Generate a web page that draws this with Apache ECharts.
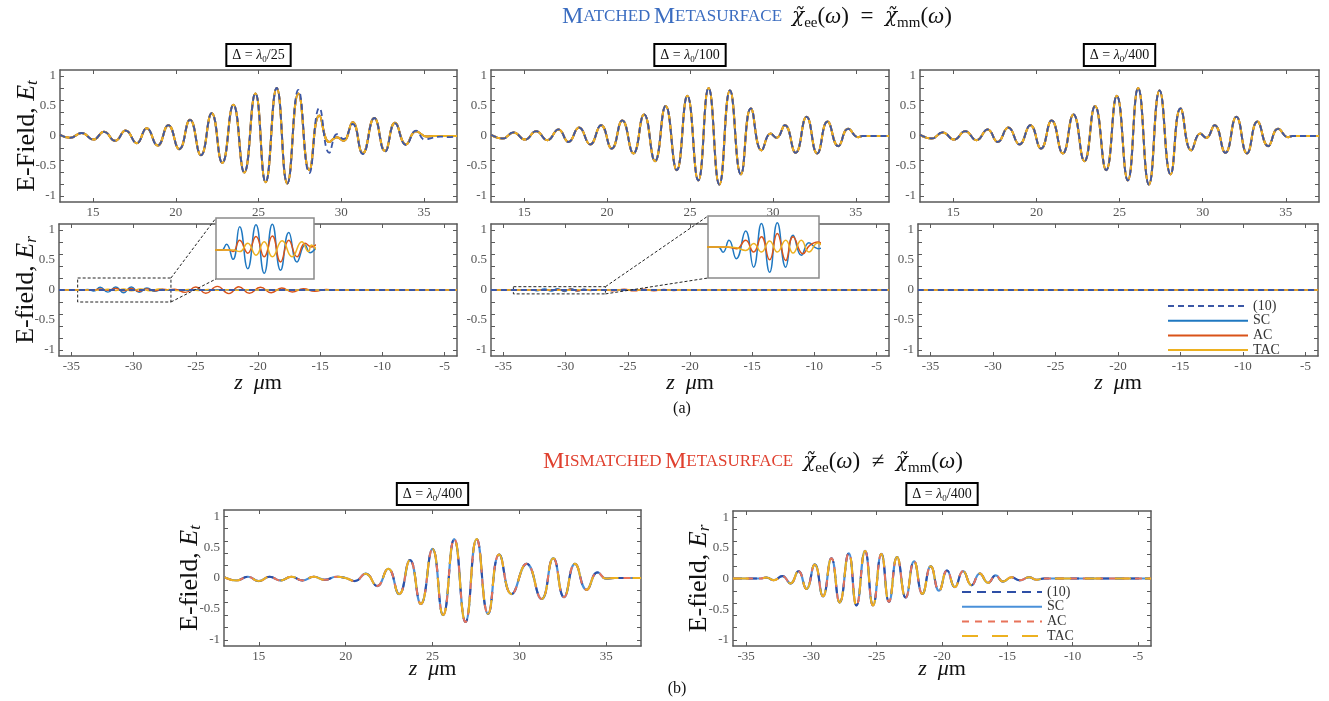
<!DOCTYPE html>
<html><head><meta charset="utf-8">
<script src="https://cdn.jsdelivr.net/npm/echarts@6/dist/echarts.min.js"></script>
<style>html,body{margin:0;padding:0;background:#fff}#c{width:1329px;height:701px}</style>
</head><body><div id="c"></div>
<script>
// ---------------- DATA ----------------
const zTicksT = [15, 20, 25, 30, 35];
const zTicksR = [-35, -30, -25, -20, -15, -10, -5];
const eLabels = [-1, -0.5, 0, 0.5, 1];
const eTicks = [-1, -0.8, -0.6, -0.4, -0.2, 0, 0.2, 0.4, 0.6, 0.8, 1];
const seriesNames = ['(10)', 'SC', 'AC', 'TAC'];
const panelTitlesA = ['25', '100', '400'];

// Matched, Δ = λ0/25, transmitted field (SC/AC/TAC)
const etLam25 = [[13.0,0.02],[13.6,-0.03],[14.31,0.05],[15.02,-0.06],[15.66,0.07],[16.33,-0.08],[16.97,0.09],[17.64,-0.12],[18.24,0.13],[18.9,-0.16],[19.55,0.18],[20.21,-0.22],[20.86,0.27],[21.52,-0.32],[22.17,0.38],[22.81,-0.45],[23.48,0.52],[24.14,-0.61],[24.81,0.71],[25.43,-0.77],[26.1,0.8],[26.74,-0.79],[27.41,0.71],[28.07,-0.57],[28.68,0.34],[29.28,-0.1],[29.73,-0.02],[30.13,-0.08],[30.69,0.23],[31.3,-0.29],[32.0,0.3],[32.65,-0.25],[33.25,0.22],[33.92,-0.14],[34.52,0.08],[35.17,-0.01],[35.6,0],[37,0]];
// Matched, Δ = λ0/25, transmitted field, eq. (10)
const etLam25Eq10 = [[13.0,0.02],[13.6,-0.03],[14.31,0.05],[15.02,-0.06],[15.66,0.07],[16.33,-0.08],[16.97,0.09],[17.64,-0.12],[18.24,0.13],[18.9,-0.16],[19.55,0.18],[20.21,-0.22],[20.86,0.27],[21.52,-0.32],[22.17,0.38],[22.81,-0.45],[23.48,0.52],[24.14,-0.61],[24.81,0.71],[25.43,-0.77],[26.1,0.8],[26.74,-0.79],[27.41,0.77],[28.07,-0.62],[28.68,0.47],[29.28,-0.28],[29.75,0.03],[30.13,-0.05],[30.69,0.2],[31.3,-0.3],[32.0,0.3],[32.65,-0.26],[33.25,0.21],[33.92,-0.15],[34.52,0.09],[35.05,-0.06],[35.5,-0.03],[36.0,-0.01],[36.5,-0.02],[37,0]];
// Matched, Δ = λ0/100 and λ0/400, transmitted field
const etMatched = [[13.0,0.02],[13.71,-0.04],[14.36,0.06],[15.06,-0.06],[15.72,0.08],[16.4,-0.07],[17.07,0.11],[17.67,-0.1],[18.31,0.14],[18.98,-0.14],[19.64,0.18],[20.28,-0.21],[20.92,0.26],[21.59,-0.29],[22.23,0.36],[22.89,-0.42],[23.53,0.5],[24.2,-0.57],[24.84,0.67],[25.5,-0.74],[26.12,0.8],[26.77,-0.81],[27.41,0.76],[28.07,-0.64],[28.67,0.46],[29.32,-0.24],[29.86,0.04],[30.22,-0.03],[30.72,0.18],[31.37,-0.28],[32.03,0.32],[32.67,-0.29],[33.29,0.24],[33.94,-0.17],[34.54,0.12],[35.14,-0.02],[35.4,0],[37,0]];
// Matched, Δ = λ0/25, reflected field
const erSC25 = [[-36,0],[-34.45,0],[-34.07,0],[-33.7,0.011],[-33.2,-0.018],[-32.69,0.045],[-32.07,-0.036],[-31.44,0.049],[-30.81,-0.045],[-30.19,0.05],[-29.56,-0.039],[-28.93,0.034],[-28.3,-0.023],[-27.68,0.01],[-27.3,-0.005],[-26.6,0.006],[-25.9,-0.006],[-25.0,0.005],[-24.2,-0.004],[-23.3,0.003],[-22.4,0],[-4,0]];
const erAC25 = [[-36,0],[-33.5,0],[-33.2,-0.003],[-32.69,0.019],[-32.07,-0.006],[-31.44,0.026],[-30.81,-0.013],[-30.19,0.027],[-29.56,-0.023],[-28.93,0.019],[-28.3,-0.013],[-27.68,0.013],[-27.18,0.006],[-26.7,0.012],[-25.85,-0.04],[-25.0,0.05],[-24.2,-0.055],[-23.27,0.06],[-22.34,-0.06],[-21.54,0.055],[-20.69,-0.055],[-19.8,0.045],[-18.94,-0.045],[-18.09,0.033],[-17.24,-0.033],[-16.36,0.022],[-15.43,-0.022],[-14.5,0.011],[-13.5,-0.005],[-12.5,0],[-4,0]];
const erTAC25 = [[-36,0],[-33.2,0],[-32.69,-0.003],[-32.07,0.013],[-31.44,-0.01],[-30.81,0.016],[-30.19,-0.013],[-29.44,0.018],[-28.68,-0.013],[-27.93,0.016],[-27.43,-0.003],[-27.18,0.01],[-26.4,-0.01],[-25.6,0.01],[-24.8,-0.008],[-24.0,0.008],[-23.2,-0.006],[-22.4,0.005],[-21.6,-0.004],[-20.8,0.003],[-20,0],[-4,0]];
// Matched, Δ = λ0/100, reflected field
const erSC100 = [[-36,0],[-33.53,0],[-33.2,-0.005],[-32.8,0.0065],[-32.31,-0.0114],[-31.69,0.0156],[-31.16,-0.0195],[-30.64,0.0228],[-30.09,-0.0244],[-29.58,0.0235],[-29.02,-0.0195],[-28.53,0.0114],[-27.98,-0.0081],[-27.47,0.0042],[-26.87,-0.0016],[-26.3,0],[-4,0]];
const erAC100 = [[-36,0],[-32.98,0],[-32.31,-0.0016],[-31.69,0.0065],[-31.16,-0.0049],[-30.64,0.0098],[-30.09,-0.0124],[-29.58,0.013],[-29.02,-0.013],[-28.53,0.0098],[-27.87,-0.0065],[-27.42,0.0016],[-26.87,0.0049],[-26.1,-0.012],[-25.3,0.014],[-24.5,-0.014],[-23.7,0.013],[-22.9,-0.012],[-22.1,0.01],[-21.3,-0.008],[-20.5,0.006],[-19.7,-0.004],[-18.9,0.002],[-18,0],[-4,0]];
const erTAC100 = [[-36,0],[-32.9,0],[-32.31,-0.0007],[-31.69,-0.0033],[-31.16,0.0033],[-30.64,-0.0049],[-30.09,0.0059],[-29.58,-0.0049],[-29.02,0.0065],[-28.53,-0.0059],[-27.98,0.0065],[-27.47,-0.0049],[-26.87,0.0039],[-26.2,-0.003],[-25.4,0.002],[-24.6,0],[-4,0]];
// Matched, Δ = λ0/400, reflected field (and eq. (10) reflected field everywhere)
const erFlat = [[-36,0],[-4,0]];
// Mismatched metasurface, Δ = λ0/400
const etMis = [[13.04,0.01],[13.71,-0.04],[14.38,0.02],[15.0,-0.05],[15.63,0.02],[16.25,-0.04],[16.88,0.02],[17.52,-0.04],[18.17,0.02],[18.8,-0.03],[19.47,0.02],[20.0,0.0],[20.53,-0.05],[21.16,0.07],[21.81,-0.13],[22.45,0.15],[23.08,-0.26],[23.7,0.29],[24.33,-0.42],[25.0,0.47],[25.61,-0.6],[26.25,0.63],[26.9,-0.71],[27.54,0.63],[28.2,-0.58],[28.84,0.38],[29.55,-0.26],[30.42,0.23],[31.28,-0.34],[31.95,0.32],[32.57,-0.31],[33.2,0.23],[33.87,-0.19],[34.5,0.09],[35.0,-0.01],[35.5,0],[37,0]];
const erMis = [[-36,0],[-33.9,0],[-33.44,0.016],[-32.88,-0.027],[-32.22,0.04],[-31.6,-0.08],[-30.99,0.12],[-30.38,-0.17],[-29.74,0.23],[-29.11,-0.29],[-28.47,0.33],[-27.83,-0.39],[-27.14,0.41],[-26.55,-0.44],[-25.89,0.45],[-25.28,-0.44],[-24.64,0.4],[-24.06,-0.38],[-23.44,0.35],[-22.78,-0.31],[-22.14,0.28],[-21.5,-0.25],[-20.86,0.2],[-20.23,-0.2],[-19.61,0.13],[-19.02,-0.14],[-18.39,0.12],[-17.74,-0.11],[-17.11,0.08],[-16.47,-0.07],[-15.89,0.05],[-15.33,-0.05],[-14.68,0.02],[-14.05,-0.03],[-13.33,0.02],[-12.77,-0.02],[-12.2,0],[-4,0]];
// zoom boxes (data coordinates of magnified region)
const zoomX25 = [-34.5, -27.0], zoomY25 = [-0.2, 0.2], insetY25 = [-0.056, 0.062];
const zoomX100 = [-34.2, -26.8], zoomY100 = [-0.065, 0.055], insetY100 = [-0.03, 0.03];

// ---------------- STYLE / LAYOUT ----------------
const FONT = 'Liberation Serif';
const C10 = '#3b57a6', CSC = '#1f78c1', CAC = '#d95319', CTAC = '#edb120';
const C10b = '#2e4fa6', CSCb = '#4a90d9', CACb = '#e8735a', CTACb = '#edb120';
const AXC = '#5a5a5a';
const ZW = '\u200b';
const SMOOTH = 0.5;

const grids = [
  {left:60,top:70,width:397,height:132},
  {left:491,top:70,width:398,height:132},
  {left:920,top:70,width:399,height:132},
  {left:59,top:224,width:398,height:132},
  {left:491,top:224,width:398,height:132},
  {left:918,top:224,width:400,height:132},
  {left:224,top:510,width:417,height:136},
  {left:733,top:511,width:418,height:135}
];
const insets = [
  {left:216,top:218,width:98,height:61},
  {left:708,top:216,width:111,height:62}
];

function nameRich(size){
  return {
    n:{fontFamily:FONT,fontSize:size,color:'#111',lineHeight:size+2},
    i:{fontFamily:FONT,fontSize:size,fontStyle:'italic',color:'#111',lineHeight:size+2},
    s:{fontFamily:FONT,fontSize:Math.round(size*0.65),fontStyle:'italic',color:'#111',lineHeight:Math.round(size*0.6),verticalAlign:'bottom'}
  };
}
const zName = '{i|z}{n|  }{i|μ}{n|m}';

const panels = [
  {xr:[13,37], xv:zTicksT, yName:'{n|E-Field, }{i|E}{s|t}', yGap:19},
  {xr:[13,37], xv:zTicksT},
  {xr:[13,37], xv:zTicksT},
  {xr:[-36,-4], xv:zTicksR, yName:'{n|E-field, }{i|E}{s|r}', yGap:19, xName:zName, xGap:15},
  {xr:[-36,-4], xv:zTicksR, xName:zName, xGap:15},
  {xr:[-36,-4], xv:zTicksR, xName:zName, xGap:15},
  {xr:[13,37], xv:zTicksT, yName:'{n|E-field, }{i|E}{s|t}', yGap:20, xName:zName, xGap:11},
  {xr:[-36,-4], xv:zTicksR, yName:'{n|E-field, }{i|E}{s|r}', yGap:20, xName:zName, xGap:11}
];

function axLine(){ return {show:true,onZero:false,lineStyle:{color:AXC,width:1.5}}; }
function axTick(vals){ return {show:true,inside:true,length:4,customValues:vals,lineStyle:{color:AXC,width:1}}; }
function axLabel(vals){ return {show:true,customValues:vals,fontFamily:FONT,fontSize:13,color:'#555',margin:4}; }

const gridOpt = [], xAxes = [], yAxes = [];
panels.forEach((p, gi) => {
  gridOpt.push(Object.assign({show:false, outerBoundsMode:'none', containLabel:false}, grids[gi]));
  const xb = {type:'value', gridIndex:gi, position:'bottom', min:p.xr[0], max:p.xr[1],
    axisLine:axLine(), axisTick:axTick(p.xv), axisLabel:axLabel(p.xv), splitLine:{show:false}};
  if (p.xName) { Object.assign(xb, {name:p.xName, nameLocation:'middle', nameGap:p.xGap, nameMoveOverlap:false, nameTextStyle:{rich:nameRich(22)}}); }
  xAxes.push(xb);
  xAxes.push({type:'value', gridIndex:gi, position:'top', min:p.xr[0], max:p.xr[1],
    axisLine:axLine(), axisTick:axTick(p.xv), axisLabel:{show:false}, splitLine:{show:false}});
  const yl = {type:'value', gridIndex:gi, position:'left', min:-1.1, max:1.1,
    axisLine:axLine(), axisTick:axTick(eTicks), axisLabel:axLabel(eLabels), splitLine:{show:false}};
  if (p.yName) { Object.assign(yl, {name:p.yName, nameLocation:'middle', nameGap:p.yGap, nameRotate:90, nameMoveOverlap:false, nameTextStyle:{rich:nameRich(26)}}); }
  yAxes.push(yl);
  yAxes.push({type:'value', gridIndex:gi, position:'right', min:-1.1, max:1.1,
    axisLine:axLine(), axisTick:axTick(eTicks), axisLabel:{show:false}, splitLine:{show:false}});
});
const insetRanges = [[zoomX25, insetY25], [zoomX100, insetY100]];
insets.forEach((g, k) => {
  gridOpt.push(Object.assign({show:true, backgroundColor:'#fff', borderColor:'#8a8a8a', borderWidth:1.5, z:10, outerBoundsMode:'none', containLabel:false}, g));
  xAxes.push({type:'value', gridIndex:8+k, min:insetRanges[k][0][0], max:insetRanges[k][0][1], show:false});
  yAxes.push({type:'value', gridIndex:8+k, min:insetRanges[k][1][0], max:insetRanges[k][1][1], show:false});
});

function ln(name, data, axisIdx, color, width, dash, z){
  return {type:'line', name:name, data:data, xAxisIndex:axisIdx, yAxisIndex:axisIdx,
    symbol:'none', smooth:SMOOTH, animation:false, silent:true,
    lineStyle:{color:color, width:width, type:dash || 'solid'}, itemStyle:{color:color}, z:z || 2};
}
function boxMark(xr, yr){
  return {silent:true, label:{show:false},
    itemStyle:{color:'rgba(0,0,0,0)', borderColor:'#222', borderWidth:1, borderType:[3,2]},
    data:[[{coord:[xr[0], yr[1]]}, {coord:[xr[1], yr[0]]}]]};
}

const series = [];
[[etLam25, etLam25Eq10], [etMatched, etMatched], [etMatched, etMatched]].forEach((d, gi) => {
  series.push(ln('SC', d[0], 2*gi, CSC, 2));
  series.push(ln('AC', d[0], 2*gi, CAC, 2));
  series.push(ln('TAC', d[0], 2*gi, CTAC, 2));
  series.push(ln('(10)', d[1], 2*gi, C10, 1.8, [6,4]));
});
[[erSC25, erAC25, erTAC25], [erSC100, erAC100, erTAC100], [erFlat, erFlat, erFlat]].forEach((d, k) => {
  const gi = 3 + k;
  series.push(ln('SC', d[0], 2*gi, CSC, 1.4));
  series.push(ln('AC', d[1], 2*gi, CAC, 1.4));
  series.push(ln('TAC', d[2], 2*gi, CTAC, 1.4));
  const s10 = ln('(10)', erFlat, 2*gi, C10, 1.8, [6,4]);
  if (k === 0) s10.markArea = boxMark(zoomX25, zoomY25);
  if (k === 1) s10.markArea = boxMark(zoomX100, zoomY100);
  series.push(s10);
});
[[erSC25, erAC25, erTAC25], [erSC100, erAC100, erTAC100]].forEach((d, k) => {
  const ai = 16 + k;
  series.push(ln('SC', d[0], ai, CSC, 1.5, null, 12));
  series.push(ln('AC', d[1], ai, CAC, 1.5, null, 12));
  series.push(ln('TAC', d[2], ai, CTAC, 1.5, null, 12));
});
[[etMis, 12], [erMis, 14]].forEach(([d, ai]) => {
  series.push(ln('SC'+ZW, d, ai, CSCb, 2.2));
  series.push(ln('(10)'+ZW, d, ai, C10b, 2, [9,6]));
  series.push(ln('AC'+ZW, d, ai, CACb, 2, [7,6]));
  series.push(ln('TAC'+ZW, d, ai, CTACb, 2, [16,14]));
});

const legendText = {fontFamily:FONT, fontSize:14, color:'#333', lineHeight:12};
const option = {
  animation:false,
  textStyle:{fontFamily:FONT},
  grid:gridOpt, xAxis:xAxes, yAxis:yAxes, series:series,
  legend:[
    {left:1167, top:299, orient:'vertical', padding:0, itemWidth:80, itemHeight:10, itemGap:0.7,
     data:seriesNames, textStyle:legendText, itemStyle:{opacity:0}, selectedMode:false},
    {left:961, top:585, orient:'vertical', padding:0, itemWidth:80, itemHeight:10, itemGap:0.7,
     data:seriesNames.map(n => n+ZW), formatter:n => n.replace(ZW,''), textStyle:legendText, itemStyle:{opacity:0}, selectedMode:false}
  ]
};

const chart = echarts.init(document.getElementById('c'), null, {renderer:'canvas'});
chart.setOption(option);

// ---------------- TEXT & ANNOTATIONS ----------------
function titleRich(col){
  return {
    b:{fontFamily:FONT,fontSize:24,fill:col,lineHeight:28},
    c:{fontFamily:FONT,fontSize:17,fill:col,lineHeight:28},
    m:{fontFamily:FONT,fontSize:23,fill:'#111',lineHeight:28},
    mi:{fontFamily:FONT,fontSize:23,fontStyle:'italic',fill:'#111',lineHeight:28},
    x:{fontFamily:'DejaVu Serif',fontSize:20,fontStyle:'italic',fill:'#111',lineHeight:28},
    s:{fontFamily:FONT,fontSize:15,fill:'#111',lineHeight:16,verticalAlign:'bottom'}
  };
}
const boxRich = {
  a:{fontFamily:FONT,fontSize:14,fill:'#111',lineHeight:17},
  i:{fontFamily:FONT,fontSize:14,fontStyle:'italic',fill:'#111',lineHeight:17},
  s:{fontFamily:FONT,fontSize:9,fill:'#111',lineHeight:9,verticalAlign:'bottom'}
};
function boxTitle(cx, cy, den){
  return {type:'text', x:cx, y:cy, z:20, style:{text:'{a|Δ = }{i|λ}{s|0}{a|/'+den+'}', rich:boxRich,
    align:'center', verticalAlign:'middle', backgroundColor:'#fff', borderColor:'#000', borderWidth:2, padding:[2,5,1,5]}};
}
const mathEq  = '{x|χ̃}{s|ee}{m|(}{mi|ω}{m|)  =  }{x|χ̃}{s|mm}{m|(}{mi|ω}{m|)}';
const mathNeq = '{x|χ̃}{s|ee}{m|(}{mi|ω}{m|)  ≠  }{x|χ̃}{s|mm}{m|(}{mi|ω}{m|)}';
const g = [];
g.push({type:'text', x:562, y:17, style:{text:'{b|M}{c|ATCHED} {b|M}{c|ETASURFACE}   ' + mathEq, rich:titleRich('#3a6cc0'), align:'left', verticalAlign:'middle'}});
g.push({type:'text', x:543, y:462, style:{text:'{b|M}{c|ISMATCHED} {b|M}{c|ETASURFACE}   ' + mathNeq, rich:titleRich('#e0402f'), align:'left', verticalAlign:'middle'}});
for (let k = 0; k < 3; k++) {
  const gr = grids[k];
  g.push(boxTitle(gr.left + gr.width/2, 55, panelTitlesA[k]));
}
g.push(boxTitle(grids[6].left + grids[6].width/2, 494, '400'));
g.push(boxTitle(grids[7].left + grids[7].width/2, 494, '400'));
g.push({type:'text', x:682, y:409, style:{text:'(a)', font:'16px "Liberation Serif"', fill:'#111', align:'center', verticalAlign:'middle'}});
g.push({type:'text', x:677, y:689, style:{text:'(b)', font:'16px "Liberation Serif"', fill:'#111', align:'center', verticalAlign:'middle'}});
[[6, zoomX25, zoomY25, insets[0]], [8, zoomX100, zoomY100, insets[1]]].forEach(([ai, xr, yr, ins]) => {
  const pt = chart.convertToPixel({xAxisIndex:ai, yAxisIndex:ai}, [xr[1], yr[1]]);
  const pb = chart.convertToPixel({xAxisIndex:ai, yAxisIndex:ai}, [xr[1], yr[0]]);
  g.push({type:'line', z:15, shape:{x1:pt[0], y1:pt[1], x2:ins.left, y2:ins.top}, style:{stroke:'#222', lineWidth:1, lineDash:[3,2]}});
  g.push({type:'line', z:15, shape:{x1:pb[0], y1:pb[1], x2:ins.left, y2:ins.top + ins.height}, style:{stroke:'#222', lineWidth:1, lineDash:[3,2]}});
});
chart.setOption({graphic:g});
</script>
</body></html>
